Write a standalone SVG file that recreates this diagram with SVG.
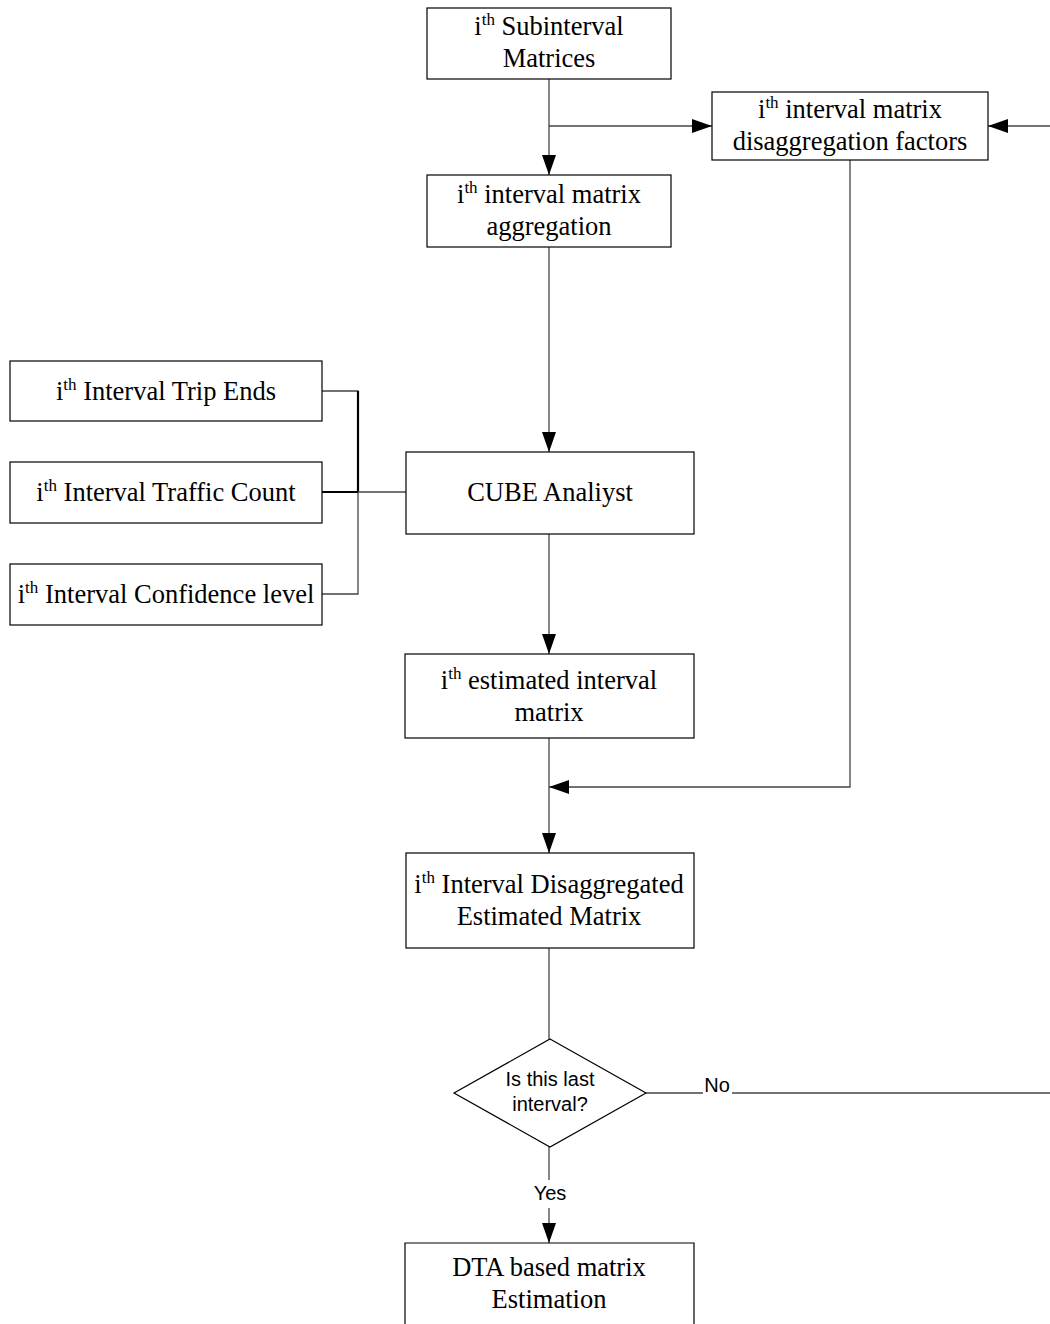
<svg xmlns="http://www.w3.org/2000/svg" width="1050" height="1324" viewBox="0 0 1050 1324">
  <style>
    .box { fill: #fff; stroke: #000; stroke-width: 1.2; }
    .t { font-family: "Liberation Serif", "Times New Roman", serif; font-size: 26.5px; fill: #000; text-anchor: middle; }
    .sup { font-size: 17px; }
    .s { font-family: "Liberation Sans", Arial, sans-serif; font-size: 20px; fill: #000; text-anchor: middle; }
    .ln { fill: none; stroke: #444; stroke-width: 1.3; }
    .bold { fill: none; stroke: #000; stroke-width: 2.2; }
  </style>
  <defs>
    <marker id="arr" markerWidth="20" markerHeight="14" refX="20" refY="7" orient="auto" markerUnits="userSpaceOnUse">
      <path d="M0,0 L20,7 L0,14 Z" fill="#000"/>
    </marker>
  </defs>

  <rect width="1050" height="1324" fill="#fff"/>

  <g id="connectors">
    <line class="ln" x1="549" y1="79" x2="549" y2="175" marker-end="url(#arr)"/>
    <line class="ln" x1="549" y1="126" x2="712" y2="126" marker-end="url(#arr)"/>
    <line class="ln" x1="1050" y1="126" x2="988" y2="126" marker-end="url(#arr)"/>
    <polyline class="ln" points="850,160 850,787 549,787" marker-end="url(#arr)"/>
    <line class="ln" x1="549" y1="247" x2="549" y2="452" marker-end="url(#arr)"/>
    <polyline class="ln" points="322,391 358,391 358,594 322,594"/>
    <line class="bold" x1="358" y1="391" x2="358" y2="492"/>
    <line class="bold" x1="322" y1="492" x2="358" y2="492"/>
    <line class="ln" x1="358" y1="492" x2="406" y2="492"/>
    <line class="ln" x1="549" y1="534" x2="549" y2="654" marker-end="url(#arr)"/>
    <line class="ln" x1="549" y1="738" x2="549" y2="853" marker-end="url(#arr)"/>
    <line class="ln" x1="549" y1="948" x2="549" y2="1039"/>
    <line class="ln" x1="646" y1="1093" x2="703" y2="1093"/>
    <line class="ln" x1="732" y1="1093" x2="1050" y2="1093"/>
    <text class="s" x="717" y="1092">No</text>
    <line class="ln" x1="549" y1="1147" x2="549" y2="1180"/>
    <line class="ln" x1="549" y1="1208" x2="549" y2="1243" marker-end="url(#arr)"/>
    <text class="s" x="550" y="1200">Yes</text>
  </g>

  <g id="n-subinterval">
    <rect class="box" x="427" y="8" width="244" height="71"/>
    <text class="t" x="549" y="35">i<tspan class="sup" dy="-10">th</tspan><tspan dy="10"> Subinterval</tspan></text>
    <text class="t" x="549" y="67">Matrices</text>
  </g>

  <g id="n-aggregation">
    <rect class="box" x="427" y="175" width="244" height="72"/>
    <text class="t" x="549" y="203">i<tspan class="sup" dy="-10">th</tspan><tspan dy="10"> interval matrix</tspan></text>
    <text class="t" x="549" y="235">aggregation</text>
  </g>

  <g id="n-factors">
    <rect class="box" x="712" y="92" width="276" height="68"/>
    <text class="t" x="850" y="118">i<tspan class="sup" dy="-10">th</tspan><tspan dy="10"> interval matrix</tspan></text>
    <text class="t" x="850" y="150">disaggregation factors</text>
  </g>

  <g id="n-tripends">
    <rect class="box" x="10" y="361" width="312" height="60"/>
    <text class="t" x="166" y="400">i<tspan class="sup" dy="-10">th</tspan><tspan dy="10"> Interval Trip Ends</tspan></text>
  </g>

  <g id="n-traffic">
    <rect class="box" x="10" y="462" width="312" height="61"/>
    <text class="t" x="166" y="501">i<tspan class="sup" dy="-10">th</tspan><tspan dy="10"> Interval Traffic Count</tspan></text>
  </g>

  <g id="n-confidence">
    <rect class="box" x="10" y="564" width="312" height="61"/>
    <text class="t" x="166" y="603">i<tspan class="sup" dy="-10">th</tspan><tspan dy="10"> Interval Confidence level</tspan></text>
  </g>

  <g id="n-cube">
    <rect class="box" x="406" y="452" width="288" height="82"/>
    <text class="t" x="550" y="501">CUBE Analiyst</text>
  </g>

  <g id="n-estimated">
    <rect class="box" x="405" y="654" width="289" height="84"/>
    <text class="t" x="549" y="689">i<tspan class="sup" dy="-10">th</tspan><tspan dy="10"> estimated interval</tspan></text>
    <text class="t" x="549" y="721">matrix</text>
  </g>

  <g id="n-disaggregated">
    <rect class="box" x="406" y="853" width="288" height="95"/>
    <text class="t" x="549" y="893">i<tspan class="sup" dy="-10">th</tspan><tspan dy="10"> Interval Disaggregated</tspan></text>
    <text class="t" x="549" y="925">Estimated Matrix</text>
  </g>

  <g id="n-decision">
    <polygon class="box" points="550,1039 646,1093 550,1147 454,1093"/>
    <text class="s" x="550" y="1086">Is this last</text>
    <text class="s" x="550" y="1111">interval?</text>
  </g>

  <g id="n-dta">
    <polyline class="box" points="405,1324 405,1243 694,1243 694,1324"/>
    <text class="t" x="549" y="1276">DTA based matrix</text>
    <text class="t" x="549" y="1308">Estimation</text>
  </g>
</svg>
